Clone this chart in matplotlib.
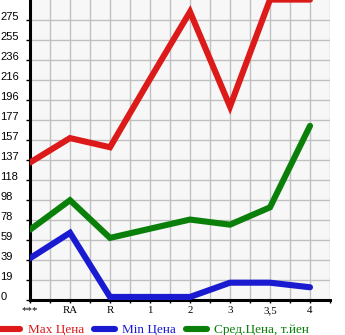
import matplotlib.pyplot as plt
from matplotlib.lines import Line2D

categories = ["***", "RA", "R", "1", "2", "3", "3,5", "4"]
max_price = [135, 159, 150, 217, 283, 190, 295, 295]
min_price = [41, 66, 3, 3, 3, 17, 17, 12.5]
avg_price = [69, 98, 61, 70, 79, 74, 91, 171]

ytick_labels = ["0", "19", "39", "59", "78", "98", "118", "137", "157",
                "177", "196", "216", "236", "255", "275"]
ystep = 19.64

RED = "#dc1a1a"
BLUE = "#1a1ad0"
GREEN = "#0a800a"

plt.rcParams["font.family"] = ["Liberation Serif", "DejaVu Serif"]

fig = plt.figure(figsize=(3.45, 3.35), dpi=100)
ax = fig.add_axes([30 / 345, 35 / 335, 300 / 345, 300 / 335])
ax.set_facecolor("#f7f7f7")

x = list(range(len(categories)))
for vals, col in [(max_price, RED), (min_price, BLUE), (avg_price, GREEN)]:
    ax.plot(x, vals, color=col, lw=4.4, solid_capstyle="round",
            solid_joinstyle="miter", zorder=3)

ax.set_xlim(0, 7.5)
ax.set_ylim(0, ystep * 15)

yt = [i * ystep for i in range(len(ytick_labels))]
ax.set_yticks(yt)
ax.set_yticklabels(ytick_labels, family=["Liberation Sans", "DejaVu Sans"])
for lab in ax.get_yticklabels():
    lab.set_horizontalalignment("left")
    lab.set_verticalalignment("baseline")
ax.tick_params(axis="y", length=3, width=1, pad=18.5, labelsize=8)

ax.set_xticks(x)
ax.set_xticklabels(categories)
ax.set_xticks([i + 0.5 for i in x], minor=True)
ax.tick_params(axis="x", which="both", length=2.2, width=1, pad=2, labelsize=7.8)

ax.grid(True, which="both", color="#c0c0c0", lw=1, zorder=0)
ax.set_axisbelow(True)
for s in ["top", "right"]:
    ax.spines[s].set_visible(False)
for s in ["left", "bottom"]:
    ax.spines[s].set_linewidth(2.2)
    ax.spines[s].set_color("black")

handles = [Line2D([], [], color=c, lw=4.4, solid_capstyle="round") for c in (RED, BLUE, GREEN)]
fig.legend(handles, ["Max Цена", "Min Цена", "Сред.Цена, т.йен"],
           loc="lower left", bbox_to_anchor=(-0.025, -0.027), ncol=3, frameon=False,
           labelcolor=[RED, BLUE, GREEN], fontsize=9.5, handlelength=1.6,
           handletextpad=0.55, columnspacing=0.75, borderaxespad=0.2)

fig.savefig("out.png", dpi=100)
